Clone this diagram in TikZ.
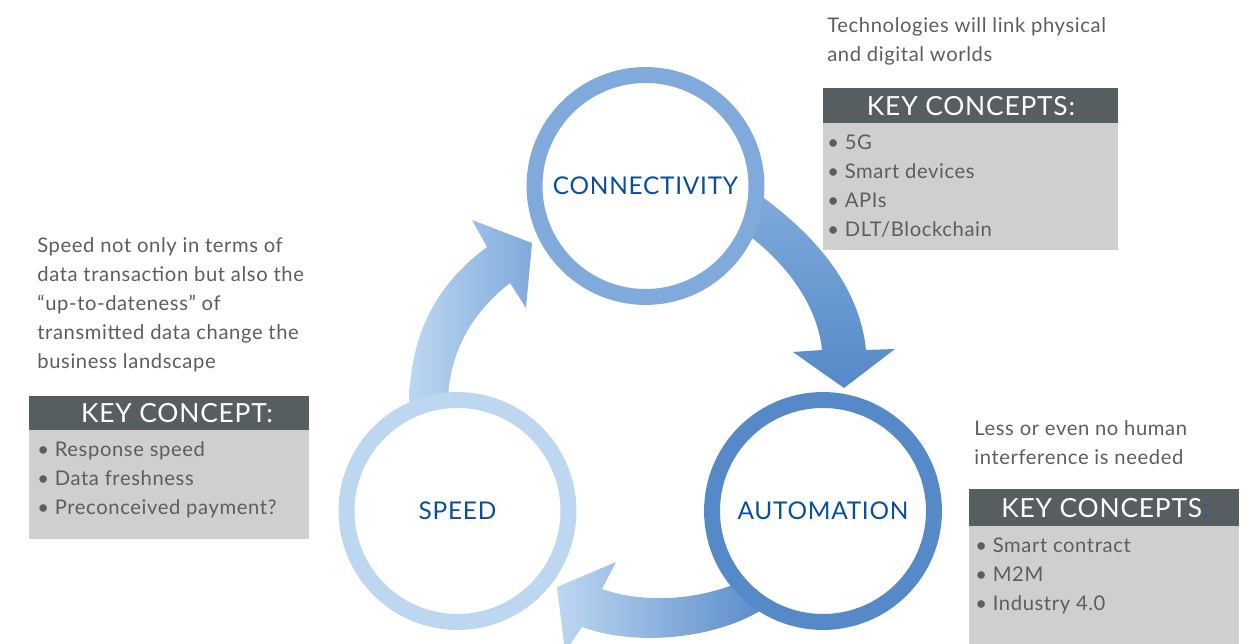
\documentclass[tikz,border=0pt]{standalone}
\usepackage{fontspec}
\setmainfont{Lato}
\newfontfamily\spfont[LetterSpace=3]{Lato}
\definecolor{spd}{HTML}{BDD7F1}
\definecolor{con}{HTML}{7FAADB}
\definecolor{aut}{HTML}{5589C8}
\definecolor{lbl}{HTML}{0A4F9E}
\definecolor{txt}{HTML}{5A5E61}
\definecolor{hdr}{HTML}{575E62}
\definecolor{bdy}{HTML}{CFCFD1}
\definecolor{colon}{HTML}{1F5FA8}
\tikzset{
  ring/.style={circle, draw=#1, line width=9.07pt, minimum size=4.44cm, inner sep=0pt, fill=white,
    font=\spfont\fontsize{13.9pt}{15pt}\selectfont, text=lbl},
  desc/.style={anchor=base west, inner sep=0pt, text=txt, font=\spfont\fontsize{11.5pt}{12pt}\selectfont},
  item/.style={anchor=base west, inner sep=0pt, text=txt, font=\spfont\fontsize{11.5pt}{12pt}\selectfont},
  hdrtext/.style={inner sep=0pt, text=white, font=\spfont\fontsize{15pt}{16pt}\selectfont},
}
\begin{document}
\begin{tikzpicture}[x=0.02cm, y=-0.02cm]
\useasboundingbox (0,0) rectangle (1249,644);
\begin{scope}
\clip (0,0) rectangle (1249,644);
% arrow speed -> connectivity
\shade[left color=spd, right color=con]
  (409,408) .. controls (409,330) and (440,282) .. (487,247)
  -- (472,220) -- (532,243) -- (526,308) -- (510,283)
  .. controls (478,308) and (450,345) .. (448,400) -- cycle;
% arrow connectivity -> automation
\shade[top color=con, bottom color=aut]
  (757,193) .. controls (820,238) and (860,290) .. (866,350)
  -- (895,349) -- (844,388) -- (793,352) -- (822,350)
  .. controls (818,310) and (792,268) .. (747,234) -- cycle;
% arrow automation -> speed
\shade[left color=spd, right color=aut]
  (742,581) .. controls (700,600) and (645,604) .. (602,589)
  -- (616,562) -- (557,587) -- (565,652) -- (582,627)
  .. controls (640,648) and (725,638) .. (772,603) -- cycle;
\end{scope}
% circles
\node[ring=con] (conn) at (645.5,186) {CONNECTIVITY};
\node[ring=spd] (speed) at (457.5,511) {SPEED};
\node[ring=aut] (auto) at (823,511) {AUTOMATION};
% top-right description and box
\node[desc] (d1a) at (827,33) {Technologies will link physical};
\node[desc] (d1b) at (827,62) {and digital worlds};
\fill[hdr] (823,88) rectangle (1118,123);
\fill[bdy] (823,123) rectangle (1118,250);
\node[hdrtext] (h1) at (971,106) {KEY CONCEPTS:};
\node[item] (i1a) at (827,150) {• 5G};
\node[item] (i1b) at (827,179) {• Smart devices};
\node[item] (i1c) at (827,208) {• APIs};
\node[item] (i1d) at (827,237) {• DLT/Blockchain};
% left description and box
\node[desc] (d2a) at (37,253) {Speed not only in terms of};
\node[desc] (d2b) at (37,282) {data transaction but also the};
\node[desc] (d2c) at (37,311) {“up-to-dateness” of};
\node[desc] (d2d) at (37,340) {transmitted data change the};
\node[desc] (d2e) at (37,369) {business landscape};
\fill[hdr] (29,396) rectangle (309,430);
\fill[bdy] (29,430) rectangle (309,539);
\node[hdrtext] (h2) at (177,413) {KEY CONCEPT:};
\node[item] (i2a) at (37,457) {• Response speed};
\node[item] (i2b) at (37,486) {• Data freshness};
\node[item] (i2c) at (37,515) {• Preconceived payment?};
% bottom-right description and box
\node[desc] (d3a) at (974,436) {Less or even no human};
\node[desc] (d3b) at (974,465) {interference is needed};
\fill[hdr] (969,489) rectangle (1239,526);
\fill[bdy] (969,526) rectangle (1239,644);
\node[hdrtext] (h3) at (1105,508) {KEY CONCEPTS\textcolor{colon}{:}};
\node[item] (i3a) at (975,553) {• Smart contract};
\node[item] (i3b) at (975,582) {• M2M};
\node[item] (i3c) at (975,611) {• Industry 4.0};
\end{tikzpicture}
\end{document}
